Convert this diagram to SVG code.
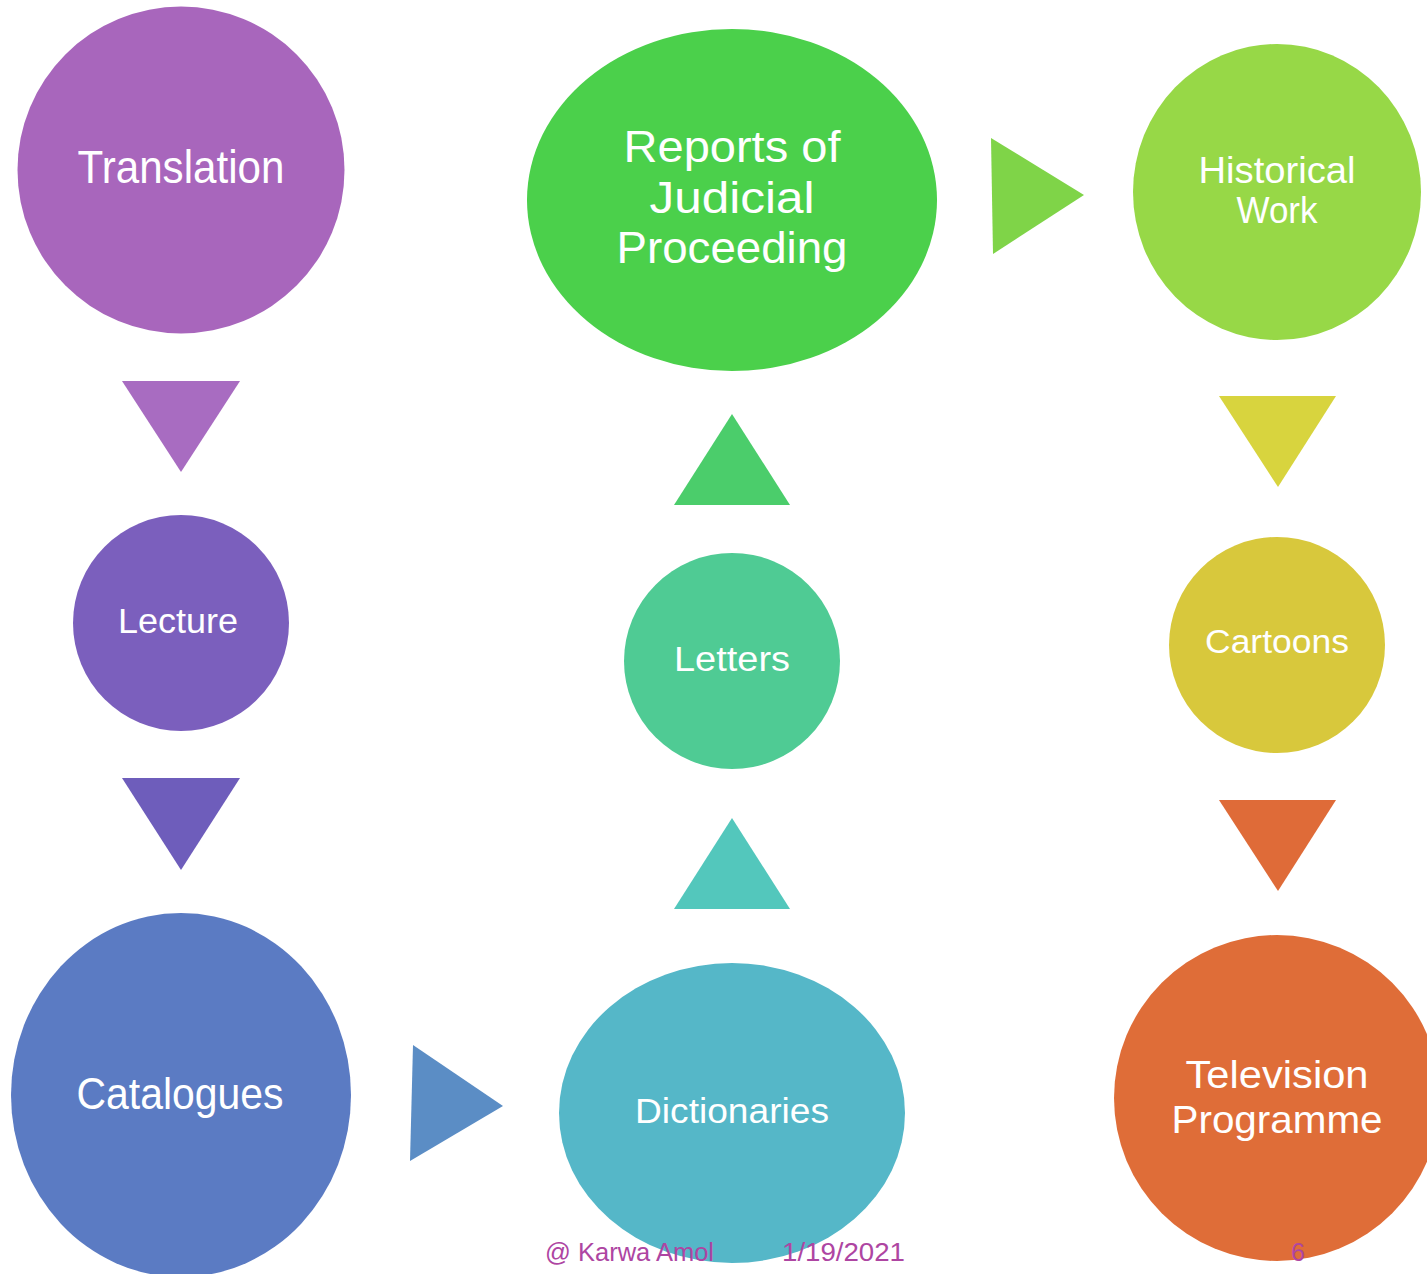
<svg xmlns="http://www.w3.org/2000/svg" width="1427" height="1274" viewBox="0 0 1427 1274">
<style>
.lbl{font-family:"Liberation Sans",Arial,sans-serif;fill:#ffffff;text-anchor:middle}
.ft{font-family:"Liberation Sans",Arial,sans-serif;fill:#AE45A2;font-size:26px}
</style>
<rect width="1427" height="1274" fill="#ffffff"/>
<g id="connectors">
<polygon points="122,381 240,381 181,472" fill="#A86CC1"/>
<polygon points="122,778 240,778 181,870" fill="#6E5DBB"/>
<polygon points="413,1045 503,1106 410,1161" fill="#5B8DC5"/>
<polygon points="674,909 790,909 732,818" fill="#53C7BC"/>
<polygon points="674,505 790,505 732,414" fill="#4BCD6B"/>
<polygon points="991,138 1084,195 993,254" fill="#7FD448"/>
<polygon points="1219,396 1336,396 1278,487" fill="#D8D43E"/>
<polygon points="1219,800 1336,800 1278,891" fill="#DF6B38"/>
</g>
<g id="translation">
<ellipse cx="181" cy="170" rx="163.5" ry="163.5" fill="#A866BC"/>
<text class="lbl" x="181" y="183" font-size="46" textLength="207" lengthAdjust="spacingAndGlyphs">Translation</text>
</g>
<g id="lecture">
<circle cx="181" cy="623" r="108" fill="#7B5FBD"/>
<text class="lbl" x="178" y="633" font-size="35" textLength="120" lengthAdjust="spacingAndGlyphs">Lecture</text>
</g>
<g id="catalogues">
<ellipse cx="181" cy="1095" rx="170" ry="182" fill="#5B7BC3"/>
<text class="lbl" x="180" y="1109" font-size="45" textLength="207" lengthAdjust="spacingAndGlyphs">Catalogues</text>
</g>
<g id="dictionaries">
<ellipse cx="732" cy="1113" rx="173" ry="150" fill="#55B7C8"/>
<text class="lbl" x="732" y="1123" font-size="35" textLength="194" lengthAdjust="spacingAndGlyphs">Dictionaries</text>
</g>
<g id="letters">
<circle cx="732" cy="661" r="108" fill="#4FCB94"/>
<text class="lbl" x="732" y="671" font-size="35" textLength="116" lengthAdjust="spacingAndGlyphs">Letters</text>
</g>
<g id="reports">
<ellipse cx="732" cy="200" rx="205" ry="171" fill="#4BD04B"/>
<text class="lbl" x="732" y="162" font-size="45" textLength="217" lengthAdjust="spacingAndGlyphs">Reports of</text>
<text class="lbl" x="732" y="213" font-size="45" textLength="165" lengthAdjust="spacingAndGlyphs">Judicial</text>
<text class="lbl" x="732" y="263" font-size="45" textLength="231" lengthAdjust="spacingAndGlyphs">Proceeding</text>
</g>
<g id="historical">
<ellipse cx="1277" cy="192" rx="144" ry="148" fill="#97D847"/>
<text class="lbl" x="1277" y="183" font-size="36" textLength="157" lengthAdjust="spacingAndGlyphs">Historical</text>
<text class="lbl" x="1277" y="223" font-size="36" textLength="81" lengthAdjust="spacingAndGlyphs">Work</text>
</g>
<g id="cartoons">
<circle cx="1277" cy="645" r="108" fill="#D8C83C"/>
<text class="lbl" x="1277" y="653" font-size="34" textLength="144" lengthAdjust="spacingAndGlyphs">Cartoons</text>
</g>
<g id="television">
<circle cx="1277" cy="1098" r="163" fill="#DF6D38"/>
<text class="lbl" x="1277" y="1088" font-size="39" textLength="183" lengthAdjust="spacingAndGlyphs">Television</text>
<text class="lbl" x="1277" y="1133" font-size="39" textLength="211" lengthAdjust="spacingAndGlyphs">Programme</text>
</g>
<g id="footer">
<text class="ft" x="545" y="1261" textLength="169" lengthAdjust="spacingAndGlyphs">@ Karwa Amol</text>
<text class="ft" x="782" y="1261" textLength="123" lengthAdjust="spacingAndGlyphs">1/19/2021</text>
<text class="ft" x="1291" y="1261" textLength="14" lengthAdjust="spacingAndGlyphs">6</text>
</g>
</svg>
